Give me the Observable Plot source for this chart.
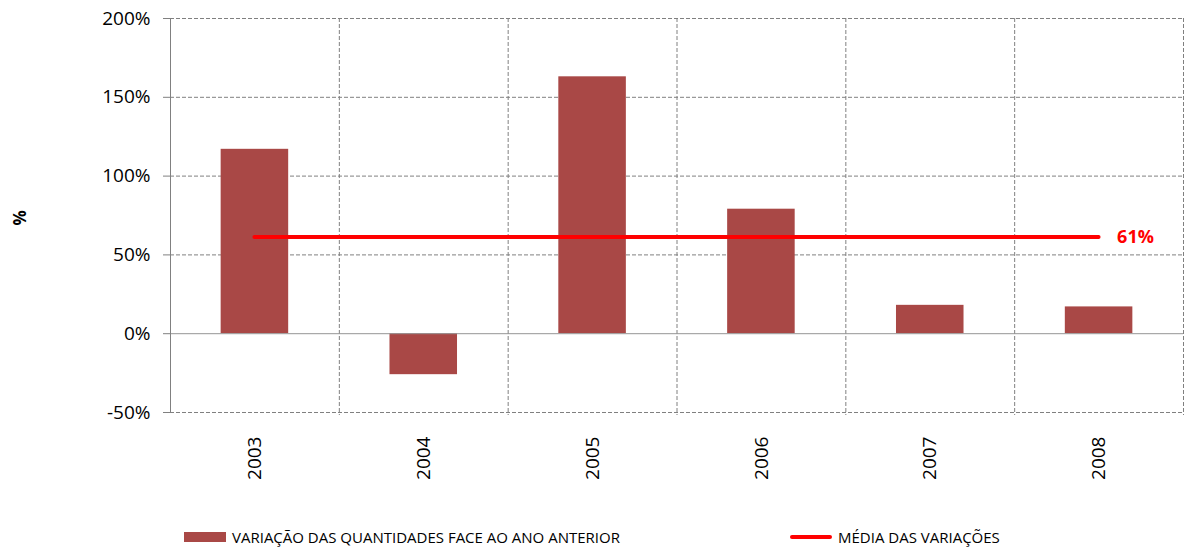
<!DOCTYPE html>
<html>
<head>
<meta charset="utf-8">
<script src="https://cdn.jsdelivr.net/npm/d3@7"></script>
<script src="https://cdn.jsdelivr.net/npm/@observablehq/plot@0.6"></script>
<style>
  body { margin: 0; background: #fff; font-family: "Open Sans", sans-serif; }
  #chart { width: 1184px; height: 548px; overflow: hidden; }
  #chart svg { display: block; }
  .legend { position: relative; height: 28px; }
  .item { position: absolute; top: 0; height: 34px; display: flex; align-items: center; font-size: 15px; color: #000; white-space: nowrap; }
  .swatch-bar { width: 42px; height: 10px; margin-right: 6px; }
  .swatch-line { width: 42px; height: 4px; border-radius: 2px; margin-right: 6px; }
</style>
</head>
<body>
<div id="chart"></div>
<script>
// Year-on-year variation of quantities (%), 2003–2008
const years = ["2003", "2004", "2005", "2006", "2007", "2008"];
const variation = [117, -26, 163, 79, 18, 17];
const yTicks = [-50, 0, 50, 100, 150, 200];
const seriesNames = ["VARIAÇÃO DAS QUANTIDADES FACE AO ANO ANTERIOR", "MÉDIA DAS VARIAÇÕES"];
const barColor = "#A94846";
const meanColor = "#FF0000";
const gridColor = "#808080";

const mean = d3.mean(variation);
const rows = years.map((year, i) => ({year, i, value: variation[i]}));

const svg = Plot.plot({
  width: 1184,
  height: 520,
  marginTop: 18,
  marginBottom: 108,
  marginLeft: 170,
  marginRight: 1,
  style: {fontFamily: "Open Sans", fontSize: "19px", background: "white", overflow: "visible"},
  x: {type: "linear", domain: [0, years.length], axis: null},
  y: {domain: [-50, 200], axis: null},
  marks: [
    // dashed grid: horizontal at each tick, vertical at category boundaries
    Plot.ruleY(yTicks.filter(d => d !== 0), {stroke: gridColor, strokeDasharray: "4,2"}),
    Plot.ruleX(d3.range(1, years.length + 1), {stroke: gridColor, strokeDasharray: "4,2", insetBottom: -3}),
    // bars, centred in each category band
    Plot.rectY(rows, {x1: d => d.i + 0.3, x2: d => d.i + 0.7, y1: 0, y2: "value", fill: barColor}),
    // zero line and left axis line
    Plot.ruleY([0], {stroke: "#959595"}),
    Plot.ruleX([0], {stroke: gridColor}),
    Plot.axisY({ticks: yTicks, tickFormat: d => d + "%", tickSize: 7, tickPadding: 13, stroke: gridColor, fill: "#000", label: null}),
    Plot.axisX({
      ticks: d3.range(years.length).map(i => i + 0.5),
      tickFormat: d => years[Math.floor(d)],
      tickRotate: -90, tickSize: 0, tickPadding: 24, fill: "#000", label: null
    }),
    // average of the variations
    Plot.ruleY([mean], {x1: 0.5, x2: years.length - 0.5, stroke: meanColor, strokeWidth: 4, strokeLinecap: "round"}),
    Plot.text([mean], {
      x: years.length - 0.5, y: d => d, text: d => Math.round(d) + "%",
      dx: 18, textAnchor: "start", fill: meanColor, fontWeight: "bold", fontSize: 18
    }),
    // y-axis title
    Plot.text(["%"], {frameAnchor: "left", dx: -150, dy: 10, rotate: -90, fontWeight: "bold", fontSize: 17, fill: "#000"})
  ]
});

const chart = document.getElementById("chart");
chart.appendChild(svg);

// legend below the plot
const legend = document.createElement("div");
legend.className = "legend";
const items = [
  {name: seriesNames[0], left: 184, cls: "swatch-bar", color: barColor},
  {name: seriesNames[1], left: 790, cls: "swatch-line", color: meanColor}
];
for (const it of items) {
  const el = document.createElement("div");
  el.className = "item";
  el.style.left = it.left + "px";
  const sw = document.createElement("span");
  sw.className = it.cls;
  sw.style.background = it.color;
  const tx = document.createElement("span");
  tx.textContent = it.name;
  el.appendChild(sw);
  el.appendChild(tx);
  legend.appendChild(el);
}
chart.appendChild(legend);
</script>
</body>
</html>
